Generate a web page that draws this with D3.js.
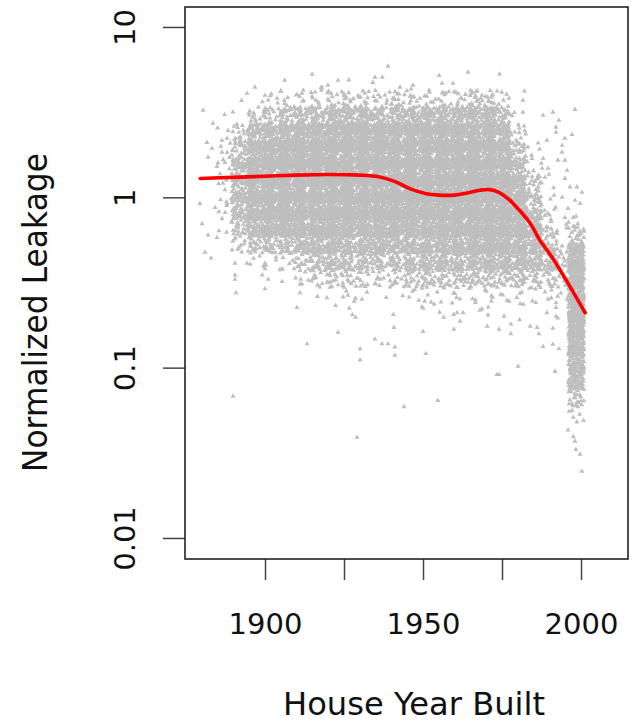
<!DOCTYPE html>
<html><head><meta charset="utf-8">
<script src="https://cdn.jsdelivr.net/npm/d3@7"></script>
<style>html,body{margin:0;padding:0;background:#fff;} svg{display:block;}</style>
</head><body>
<svg id="chart" width="634" height="724"></svg>
<script>
// ---------------- data ----------------
const xTickValues = [1900, 1925, 1950, 1975, 2000];
const xTickLabels = ["1900", "", "1950", "", "2000"];
const yTickValues = [0.01, 0.1, 1, 10];
const yTickLabels = ["0.01", "0.1", "1", "10"];
const xTitle = "House Year Built";
const yTitle = "Normalized Leakage";

// smoothed trend (red line)
const smoothYears  = [1879.5, 1890, 1900, 1910, 1920, 1930, 1936, 1941, 1946, 1951, 1955, 1960, 1964, 1968, 1971, 1974, 1977, 1980, 1984, 1987, 1991, 1996, 2001.3];
const smoothValues = [1.29, 1.31, 1.33, 1.35, 1.36, 1.35, 1.32, 1.24, 1.12, 1.05, 1.03, 1.03, 1.06, 1.10, 1.11, 1.07, 0.98, 0.86, 0.70, 0.56, 0.44, 0.31, 0.21];

// individually visible (sparse) houses
const outlierYears = [
  1938.9,1964.2,1914.9,1934.8,1923.1,1956.0,1959.5,1946.8,1942.7,1918.0,1919.9,1896.8,1894.3,1931.6,1900.0,1911.7,1903.8,
  1880.4,1883.5,1881.6,1883.2,1886.4,1882.0,1886.4,1885.1,1887.3,1888.0,1888.3,1879.4,1884.2,1880.1,1882.0,1884.8,1888.0,1886.7,1881.0,1882.9,1889.9,
  1890.5,1894.3,1890.5,1890.5,1890.8,1900.0,1900.0,1899.1,1901.0,1900.0,1905.4,1905.4,1911.1,1911.1,1910.1,1913.3,
  1923.1,1930.1,1930.1,1934.8,1937.0,1938.9,1941.1,1941.1,1940.8,1950.0,1950.9,1944.0,1954.7,1929.1,1959.8,1970.3,1974.1,1977.8,1977.8,1973.4,1974.1,1980.1,1983.9,1986.1,1986.7,1988.0,1991.1,1993.0,1991.8,1989.2,1991.1,1992.1,1992.1,1992.1,1960.8,1962.7,1968.0,
  1997.2,1998.7,1995.9,1998.1,1998.4,1999.7,2000.3,
  1981.6,1981.6,1988.0,1991.1,1998.1,1993.0,1992.1,1992.1,1989.2,1986.4,1994.9,1997.2,1994.0,1994.0,1983.2,1988.0,1992.7,1994.9,1987.7,1989.6,1995.6,1988.6,1994.9,1987.0,1996.5,1998.7,1994.0,2000.3,1998.1,1999.7,1995.9,1994.9,1997.5,1999.0,1998.1,2000.3,2000.3
];
const outlierValues = [
  5.88,5.42,5.28,5.07,4.86,4.67,4.67,4.55,4.43,4.43,4.55,4.43,4.08,4.08,3.97,4.08,3.81,
  3.24,2.72,2.10,1.94,2.16,1.72,1.84,1.59,1.60,2.22,2.47,0.92,0.87,0.70,0.60,0.58,0.92,1.21,0.475,0.44,0.068,
  0.41,0.41,0.35,0.33,0.275,0.41,0.38,0.35,0.33,0.29,0.38,0.32,0.31,0.275,0.225,0.138,
  0.161,0.129,0.111,0.147,0.138,0.138,0.132,0.118,0.172,0.163,0.121,0.059,0.064,0.039,0.168,0.175,0.168,0.18,0.158,0.091,0.091,0.102,0.175,0.172,0.158,0.133,0.137,0.129,0.095,0.21,0.17,0.24,0.225,0.20,0.21,0.21,0.217,
  0.056,0.048,0.043,0.037,0.033,0.031,0.0246,
  3.71,3.16,3.03,3.16,3.28,2.83,2.58,2.41,2.16,2.08,2.22,2.34,2.02,1.84,1.97,1.69,1.65,1.65,1.48,1.48,1.44,1.31,1.29,1.21,1.15,1.15,1.00,1.07,0.96,0.92,0.86,0.76,0.76,0.70,0.67,0.54,0.47
];

// dense cloud, read as a density map: 5-year columns x 0.1-decade rows, level 0-9 per cell
const densityYearEdges = [1876,1881,1886,1891,1896,1901,1906,1911,1916,1921,1926,1931,1936,1941,1946,1951,1956,1961,1966,1971,1976,1981,1986,1991,1996,2001];
const densityLogEdges  = [0.8,0.7,0.6,0.5,0.4,0.3,0.2,0.1,0.0,-0.1,-0.2,-0.3,-0.4,-0.5,-0.6,-0.7,-0.8,-0.9,-1.0,-1.1,-1.2,-1.3,-1.4];
const densityRows = [
  "0000000000000000000000000",
  "0000011111111111111100000",
  "0001234445545545456510000",
  "0013667778887888888830000",
  "0026889999999999999951000",
  "0037999999999999999972000",
  "0038999999999999999984100",
  "0038999999999999999996200",
  "0038999999999999999997310",
  "0037899899989998999998512",
  "0025777888788878889998636",
  "0002234677676677778888759",
  "0000001455544566666666559",
  "0000000122311233333333339",
  "0000000011200112212211119",
  "0000000000100000000000009",
  "0000000000000000000000009",
  "0000000000000000000000008",
  "0000000000000000000000008",
  "0000000000000000000000006",
  "0000000000000000000000003",
  "0000000000000000000000001"
];
const levelCounts = [0, 1, 3, 6, 12, 19, 28, 40, 54, 72];

// ---------------- chart ----------------
const plot = {left: 185, right: 628, top: 7, bottom: 559};
const svg = d3.select("#chart");

const x = d3.scaleLinear().domain([1874.68, 2014.87]).range([plot.left, plot.right]);
const y = d3.scaleLog().domain([0.007526, 13.1]).range([plot.bottom, plot.top]);

// deterministic low-discrepancy placement inside each density cell
function halton(i, base) {
  let f = 1, r = 0;
  while (i > 0) { f /= base; r += f * (i % base); i = Math.floor(i / base); }
  return r;
}
const pts = [];
const lastCol = densityYearEdges.length - 2;
densityRows.forEach((row, r) => {
  const l0 = densityLogEdges[r], l1 = densityLogEdges[r + 1];
  for (let c = 0; c < row.length; c++) {
    const n = levelCounts[+row[c]];
    const y0 = densityYearEdges[c], y1 = densityYearEdges[c + 1];
    const k0 = 1 + (c * 97 + r * 389) % 1000;
    const sx = c === lastCol ? 0 : 0.3;
    const sy = 0.3;
    for (let i = 0; i < n; i++) {
      const u = halton(k0 + i, 2), v = halton(k0 + i, 3);
      const uu = -sx + u * (1 + 2 * sx);
      const vv = -sy + v * (1 + 2 * sy);
      pts.push({year: y0 + uu * (y1 - y0), value: Math.pow(10, l1 + vv * (l0 - l1))});
    }
  }
});
outlierYears.forEach((yr, i) => pts.push({year: yr, value: outlierValues[i]}));

const tri = d3.symbol(d3.symbolTriangle, 11)();
svg.append("g").attr("fill", "#bebebe")
  .selectAll("path").data(pts).join("path")
  .attr("d", tri)
  .attr("transform", d => `translate(${x(d.year).toFixed(2)},${y(d.value).toFixed(2)})`);

// red smooth line
const line = d3.line().x(d => x(d.year)).y(d => y(d.value)).curve(d3.curveCatmullRom.alpha(0.5));
svg.append("path")
  .datum(smoothYears.map((yr, i) => ({year: yr, value: smoothValues[i]})))
  .attr("d", line).attr("fill", "none").attr("stroke", "#ff0000")
  .attr("stroke-width", 3.6).attr("stroke-linejoin", "round").attr("stroke-linecap", "round");

// axes
const fontFam = "'DejaVu Sans', Verdana, sans-serif";
const xAxis = svg.append("g").attr("transform", `translate(0,${plot.bottom})`)
  .call(d3.axisBottom(x).tickValues(xTickValues).tickSize(21)
        .tickFormat((d, i) => xTickLabels[i]));
xAxis.select(".domain").remove();
xAxis.selectAll("line").attr("stroke", "#444").attr("stroke-width", 1.5);
xAxis.selectAll("text").attr("y", 75).attr("dy", 0)
  .attr("font-family", fontFam).attr("font-size", 29).attr("fill", "#111");

const yAxis = svg.append("g").attr("transform", `translate(${plot.left},0)`)
  .call(d3.axisLeft(y).tickValues(yTickValues).tickSize(22)
        .tickFormat((d, i) => yTickLabels[i]));
yAxis.select(".domain").remove();
yAxis.selectAll("line").attr("stroke", "#444").attr("stroke-width", 1.5);
yAxis.selectAll("text").attr("x", 0).attr("dy", 0)
  .attr("transform", "translate(-50,0) rotate(-90)")
  .attr("text-anchor", "middle")
  .attr("font-family", fontFam).attr("font-size", 29).attr("fill", "#111");

// frame
svg.append("rect").attr("x", plot.left).attr("y", plot.top)
  .attr("width", plot.right - plot.left).attr("height", plot.bottom - plot.top)
  .attr("fill", "none").attr("stroke", "#222").attr("stroke-width", 1.6);

// titles
svg.append("text").attr("x", 414).attr("y", 715).attr("text-anchor", "middle")
  .attr("font-family", fontFam).attr("font-size", 32).attr("fill", "#111")
  .attr("textLength", 262).attr("lengthAdjust", "spacingAndGlyphs").text(xTitle);
svg.append("text").attr("transform", "translate(47,312.5) rotate(-90)").attr("text-anchor", "middle")
  .attr("font-family", fontFam).attr("font-size", 33).attr("fill", "#111")
  .attr("textLength", 319).attr("lengthAdjust", "spacingAndGlyphs").text(yTitle);
</script>
</body></html>
